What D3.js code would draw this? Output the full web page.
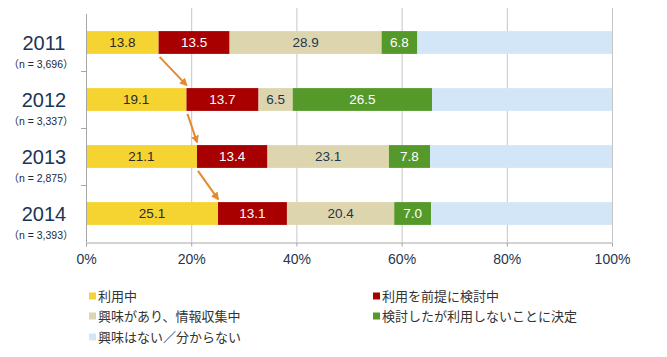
<!DOCTYPE html>
<html><head><meta charset="utf-8">
<script src="https://cdn.jsdelivr.net/npm/d3@7"></script>
<style>
html,body{margin:0;padding:0;background:#fff;}
svg{display:block;}
</style></head>
<body>
<svg id="chart" width="667" height="357"></svg>
<script>
const years = ["2011", "2012", "2013", "2014"];
const sampleSizes = ["（n = 3,696）", "（n = 3,337）", "（n = 2,875）", "（n = 3,393）"];
const seriesNames = ["利用中", "利用を前提に検討中", "興味があり、情報収集中", "検討したが利用しないことに決定", "興味はない／分からない"];
const usingNow = [13.8, 19.1, 21.1, 25.1];
const consideringUse = [13.5, 13.7, 13.4, 13.1];
const gatheringInfo = [28.9, 6.5, 23.1, 20.4];
const decidedNotToUse = [6.8, 26.5, 7.8, 7.0];
const notInterested = [37.0, 34.2, 34.6, 34.4];
const xTicks = [0, 20, 40, 60, 80, 100];

const seriesValues = [usingNow, consideringUse, gatheringInfo, decidedNotToUse, notInterested];
const colors = ["#F5D431", "#A80000", "#DCD5AE", "#55992A", "#D3E6F8"];
const labelColors = ["#2a2a2a", "#ffffff", "#1F3550", "#ffffff", null];

const svg = d3.select("#chart");
const x = d3.scaleLinear().domain([0, 100]).range([86, 612]);
const y = d3.scaleBand().domain(years).range([14, 242]).paddingInner(0.6).paddingOuter(0.3);

// gridlines
svg.append("g").selectAll("line").data(xTicks.filter(d => d > 0)).join("line")
  .attr("x1", d => x(d) + 0.5).attr("x2", d => x(d) + 0.5)
  .attr("y1", 8).attr("y2", 242)
  .attr("stroke", "#C6C6C6").attr("stroke-width", 1);

// stacked data
const table = years.map((yr, i) => {
  const o = { year: yr };
  seriesNames.forEach((s, j) => o[s] = seriesValues[j][i]);
  return o;
});
const stacked = d3.stack().keys(seriesNames)(table);

const groups = svg.append("g").selectAll("g").data(stacked).join("g")
  .attr("fill", (d, j) => colors[j]);
groups.selectAll("rect").data(d => d).join("rect")
  .attr("x", d => x(d[0]))
  .attr("width", d => x(d[1]) - x(d[0]))
  .attr("y", d => y(d.data.year))
  .attr("height", y.bandwidth());

// value labels
stacked.forEach((s, j) => {
  if (!labelColors[j]) return;
  svg.append("g").selectAll("text").data(s).join("text")
    .attr("x", d => (x(d[0]) + x(d[1])) / 2)
    .attr("y", d => y(d.data.year) + y.bandwidth() / 2)
    .attr("dy", "0.36em")
    .attr("text-anchor", "middle")
    .attr("font-family", "Liberation Sans, Arial, sans-serif")
    .attr("font-size", 13.5)
    .attr("fill", labelColors[j])
    .text(d => (d[1] - d[0]).toFixed(1));
});

// left axis
const leftAxis = svg.append("g");
leftAxis.append("line").attr("x1", 86.5).attr("x2", 86.5).attr("y1", 14).attr("y2", 242)
  .attr("stroke", "#A6A6A6");
const boundaries = years.map(yr => y(yr) - y.step() * y.paddingInner() / 2).slice(1);
leftAxis.selectAll("line.tk").data(boundaries).join("line").attr("class", "tk")
  .attr("x1", 81).attr("x2", 86).attr("y1", d => d + 0.5).attr("y2", d => d + 0.5)
  .attr("stroke", "#A6A6A6");

// year labels
svg.append("g").selectAll("text").data(years).join("text")
  .attr("x", 44).attr("y", d => y(d) + y.bandwidth() / 2 + 0.5)
  .attr("dy", "0.36em").attr("text-anchor", "middle")
  .attr("font-family", "Liberation Sans, Arial, sans-serif")
  .attr("font-size", 20).attr("fill", "#1B3556")
  .text(d => d);
const nText = svg.append("g").selectAll("text").data(sampleSizes).join("text")
  .attr("x", 41).attr("y", (d, i) => y(years[i]) + y.bandwidth() / 2 + 22)
  .attr("dy", "0.36em").attr("text-anchor", "middle")
  .attr("font-family", "Liberation Sans, Arial, sans-serif")
  .attr("font-size", 10.5).attr("fill", "#1B2A3E");
nText.append("tspan").attr("font-family", "Noto Sans CJK JP").text(d => d.slice(0, 1));
nText.append("tspan").text(d => d.slice(1, -1));
nText.append("tspan").attr("font-family", "Noto Sans CJK JP").text(d => d.slice(-1));

// bottom axis
const xAxis = d3.axisBottom(x).tickValues(xTicks).tickFormat(d => d + "%").tickSize(4).tickPadding(8);
const gx = svg.append("g").attr("transform", "translate(0,242.5)").call(xAxis);
gx.select(".domain").attr("stroke", "#A6A6A6");
gx.selectAll(".tick line").attr("stroke", "#A6A6A6");
gx.selectAll(".tick text").attr("font-family", "Liberation Sans, Arial, sans-serif")
  .attr("font-size", 14).attr("fill", "#1F3550");

// arrows
const defs = svg.append("defs");
defs.append("marker").attr("id", "ah").attr("viewBox", "0 0 10 10")
  .attr("refX", 8).attr("refY", 5).attr("markerWidth", 4).attr("markerHeight", 4)
  .attr("orient", "auto").attr("markerUnits", "strokeWidth")
  .append("path").attr("d", "M0,0 L10,5 L0,10 z").attr("fill", "#E38A2E");
const arrowData = years.slice(0, -1).map((yr, i) => ({
  x1: x(usingNow[i]) + 1, y1: y(yr) + y.bandwidth() + 3,
  x2: x(usingNow[i + 1]), y2: y(years[i + 1]) - 3
}));
svg.append("g").selectAll("line").data(arrowData).join("line")
  .attr("x1", d => d.x1).attr("y1", d => d.y1).attr("x2", d => d.x2).attr("y2", d => d.y2)
  .attr("stroke", "#E38A2E").attr("stroke-width", 2).attr("marker-end", "url(#ah)");

// legend
const legendPos = [[89, 296], [373, 296], [89, 316], [373, 316], [89, 337]];
const lg = svg.append("g").selectAll("g").data(seriesNames).join("g")
  .attr("transform", (d, i) => `translate(${legendPos[i][0]},${legendPos[i][1]})`);
lg.append("rect").attr("x", 0).attr("y", -3.5).attr("width", 7).attr("height", 7)
  .attr("fill", (d, i) => colors[i]);
lg.append("text").attr("x", 9).attr("y", 0).attr("dy", "0.36em")
  .attr("font-family", "Noto Sans CJK JP, sans-serif").attr("font-size", 13)
  .attr("fill", "#333").text(d => d);
</script>
</body></html>
